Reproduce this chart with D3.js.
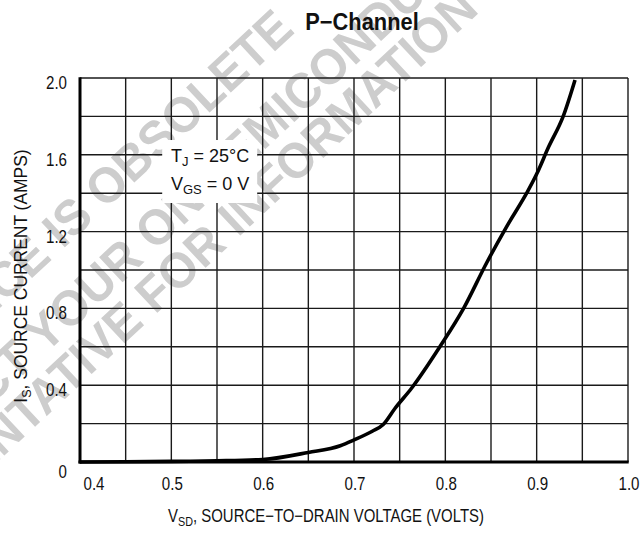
<!DOCTYPE html>
<html><head><meta charset="utf-8">
<script src="https://cdn.jsdelivr.net/npm/d3@7"></script>
<style>
body{margin:0;background:#fff;}
svg text{font-family:"Liberation Sans",Arial,sans-serif;fill:#111;}
</style></head>
<body>
<svg id="c" width="641" height="534"></svg>
<script>
// ---- data ----
const vsd = [0.40,0.45,0.50,0.55,0.60,0.65,0.685,0.70,0.72,0.732,0.745,0.763,0.794,0.82,0.845,0.867,0.889,0.90,0.913,0.929,0.942];
const isrc = [0.0,0.001,0.003,0.006,0.013,0.05,0.085,0.115,0.16,0.195,0.28,0.384,0.60,0.80,1.035,1.225,1.40,1.50,1.64,1.80,1.99];
const xTicks = [0.4,0.5,0.6,0.7,0.8,0.9,1.0];
const xTickLabels = ["0.4","0.5","0.6","0.7","0.8","0.9","1.0"];
const yTicks = [0,0.4,0.8,1.2,1.6,2.0];
const yTickLabels = ["0","0.4","0.8","1.2","1.6","2.0"];
const xGrid = d3.range(0,13).map(i=>0.4+i*0.05);
const yGrid = d3.range(0,11).map(i=>i*0.2);
const watermark = ["THIS DEVICE IS OBSOLETE","CONTACT YOUR ON SEMICONDUCTOR","REPRESENTATIVE FOR INFORMATION"];
const watermarkKey = ["OBSOLETE","ON SEMI","FOR"];

const svg = d3.select("#c");
const L=80,R=628,T=78,B=462;
const x = d3.scaleLinear().domain([0.4,1.0]).range([L,R]);
const y = d3.scaleLinear().domain([0,2.0]).range([B,T]);
const NARROW = 0.84;

// watermark (each line anchored at the start of a key word)
const wm = svg.append("g");
const wmAnchor = [[105,210],[155,252],[155,315]];
watermark.forEach((t,i)=>{
  const el = wm.append("text").attr("transform",`translate(${wmAnchor[i][0]},${wmAnchor[i][1]}) rotate(-43) scale(0.95,1)`)
    .attr("x",0).attr("y",0)
    .style("font-weight","bold")
    .style("font-size","50px").style("fill","#cdcdcd").text(t);
  const idx = t.indexOf(watermarkKey[i]);
  const off = idx>0 ? el.node().getSubStringLength(0, idx) : 0;
  el.attr("x", -off);
});

// grid
const g = svg.append("g");
g.selectAll(".vg").data(xGrid).enter().append("line")
  .attr("x1",d=>x(d)).attr("x2",d=>x(d)).attr("y1",T).attr("y2",B)
  .attr("stroke","#1a1a1a").attr("stroke-width",1.4);
g.selectAll(".hg").data(yGrid).enter().append("line")
  .attr("x1",L).attr("x2",R).attr("y1",d=>y(d)).attr("y2",d=>y(d))
  .attr("stroke","#1a1a1a").attr("stroke-width",1.4);
g.append("line").attr("x1",L).attr("x2",L).attr("y1",T-0.7).attr("y2",B+1.5).attr("stroke","#000").attr("stroke-width",3);
g.append("line").attr("x1",L-1.5).attr("x2",R+0.7).attr("y1",B).attr("y2",B).attr("stroke","#000").attr("stroke-width",3);

// annotation box
svg.append("rect").attr("x",x(0.49)).attr("y",y(1.677)).attr("width",x(0.594)-x(0.49)).attr("height",y(1.349)-y(1.677)).attr("fill","#fff");
const ann = svg.append("g").style("font-size","18px");
function narrowText(sel, px, py, k){
  return sel.append("text").attr("transform",`translate(${px},${py}) scale(${k},1)`);
}
const a1 = narrowText(ann, x(0.5425), y(1.563), 1.0).attr("text-anchor","middle");
a1.append("tspan").text("T");
a1.append("tspan").attr("dy",4).style("font-size","13px").text("J");
a1.append("tspan").attr("dy",-4).text(" = 25°C");
const a2 = narrowText(ann, x(0.5425), y(1.417), 1.0).attr("text-anchor","middle");
a2.append("tspan").text("V");
a2.append("tspan").attr("dy",4).style("font-size","13px").text("GS");
a2.append("tspan").attr("dy",-4).text(" = 0 V");

// curve
const line = d3.line().x((d,i)=>x(vsd[i])).y((d,i)=>y(isrc[i])).curve(d3.curveMonotoneX);
svg.append("path").datum(vsd).attr("d",line).attr("fill","none").attr("stroke","#000").attr("stroke-width",3.6).attr("stroke-linejoin","round");

// tick labels
const xa = svg.append("g").style("font-size","18px");
xTicks.forEach((d,i)=>{
  narrowText(xa, i===0? x(d)+14 : x(d)+1, B+28, NARROW).attr("text-anchor","middle").text(xTickLabels[i]);
});
const ya = svg.append("g").style("font-size","18px");
yTicks.forEach((d,i)=>{
  narrowText(ya, L-13, y(d)+(d===0?16:11), NARROW).attr("text-anchor","end").text(yTickLabels[i]);
});

// titles
svg.append("text").attr("transform","translate(362,30) scale(0.95,1)").attr("text-anchor","middle")
  .style("font-weight","bold").style("font-size","23px").text("P−Channel");

const xt = narrowText(svg, 326, 522, 0.83).attr("text-anchor","middle").style("font-size","18px");
xt.append("tspan").text("V");
xt.append("tspan").attr("dy",4).style("font-size","13px").text("SD");
xt.append("tspan").attr("dy",-4).text(", SOURCE−TO−DRAIN VOLTAGE (VOLTS)");

const yt = svg.append("text").attr("transform",`translate(27,276) rotate(-90) scale(0.97,1)`).attr("text-anchor","middle").style("font-size","18px");
yt.append("tspan").text("I");
yt.append("tspan").attr("dy",4).style("font-size","13px").text("S");
yt.append("tspan").attr("dy",-4).text(", SOURCE CURRENT (AMPS)");
</script>
</body></html>
